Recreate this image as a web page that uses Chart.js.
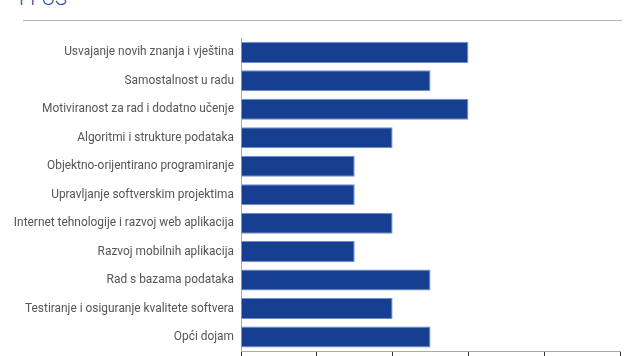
<!DOCTYPE html>
<html>
<head>
<meta charset="utf-8">
<script src="https://cdn.jsdelivr.net/npm/chart.js@4/dist/chart.umd.min.js"></script>
<style>
  html, body { margin: 0; padding: 0; width: 640px; height: 356px; overflow: hidden; background: #fff; }
  #title { position: absolute; left: 19px; top: -13px; font-family: Roboto, sans-serif; font-weight: 300; font-size: 20px; line-height: 22px; color: #1a47a0; white-space: nowrap; }
  #rule { position: absolute; left: 23px; top: 20px; width: 599px; height: 1px; background: #b4b4b4; }
  #wrap { position: absolute; left: 0; top: 24px; width: 640px; height: 364px; }
</style>
</head>
<body>
<div id="title">FFOS</div>
<div id="rule"></div>
<div id="wrap"><canvas id="c"></canvas></div>
<script>
const categories = [
  "Usvajanje novih znanja i vještina",
  "Samostalnost u radu",
  "Motiviranost za rad i dodatno učenje",
  "Algoritmi i strukture podataka",
  "Objektno-orijentirano programiranje",
  "Upravljanje softverskim projektima",
  "Internet tehnologije i razvoj web aplikacija",
  "Razvoj mobilnih aplikacija",
  "Rad s bazama podataka",
  "Testiranje i osiguranje kvalitete softvera",
  "Opći dojam"
];
const values = [3, 2.5, 3, 2, 1.5, 1.5, 2, 1.5, 2.5, 2, 2.5];
const xTicks = [0, 1, 2, 3, 4, 5];

new Chart(document.getElementById('c'), {
  type: 'bar',
  data: {
    labels: categories,
    datasets: [{
      data: values,
      backgroundColor: '#163f91',
      borderColor: 'rgba(95,130,200,0.9)',
      borderWidth: 1,
      borderSkipped: 'start',
      categoryPercentage: 1,
      barPercentage: 0.74
    }]
  },
  options: {
    indexAxis: 'y',
    responsive: true,
    maintainAspectRatio: false,
    animation: false,
    layout: { padding: { top: 9.75, right: 20, left: 0, bottom: 0 } },
    plugins: { legend: { display: false }, tooltip: { enabled: false } },
    scales: {
      x: {
        min: xTicks[0],
        max: xTicks[xTicks.length - 1],
        afterBuildTicks: (s) => { s.ticks = xTicks.map(v => ({ value: v })); },
        grid: { drawOnChartArea: false, drawTicks: true, tickLength: 5, color: '#333' },
        border: { display: true, color: '#aaa', width: 1 },
        ticks: { color: '#555', font: { family: 'Roboto', size: 12 }, padding: 3 },
        afterFit: (s) => { s.height = 36.75; }
      },
      y: {
        grid: { display: false, drawTicks: false },
        border: { display: true, color: '#aaa', width: 1 },
        ticks: { color: '#555', font: { family: 'Roboto', size: 11.9 }, padding: 7 },
        afterFit: (s) => { s.width = 241; }
      }
    }
  }
});
</script>
</body>
</html>
